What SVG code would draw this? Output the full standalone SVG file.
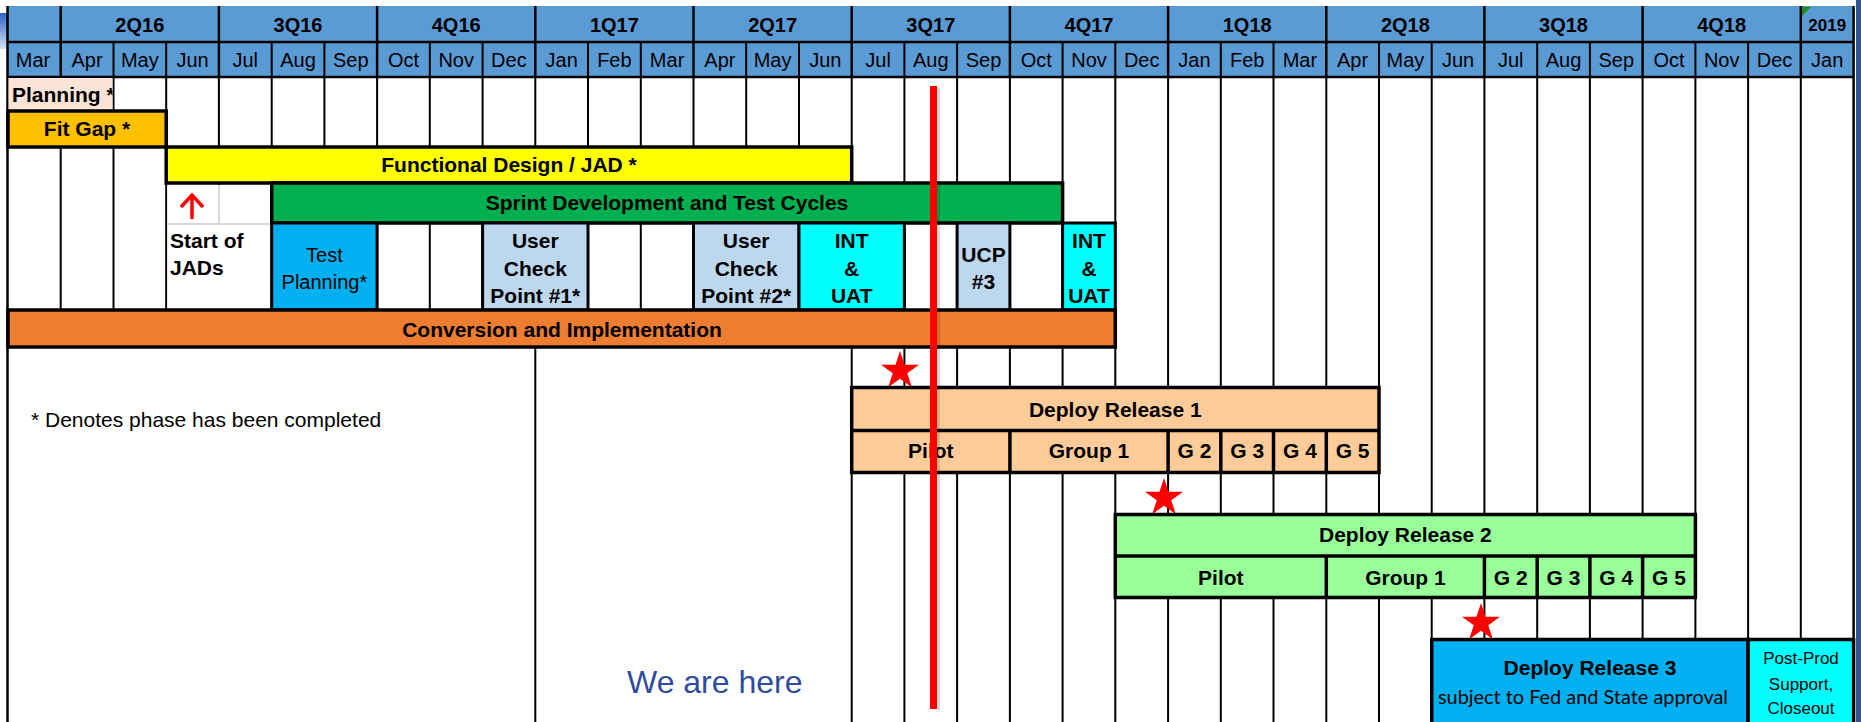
<svg xmlns="http://www.w3.org/2000/svg" width="1861" height="722" viewBox="0 0 1861 722">
<defs>
<style>
.hdr{fill:#5B9BD5}
.gl{stroke:#000;stroke-width:2;fill:none}
.hl{stroke:#000;stroke-width:2.5;fill:none}
.bar{stroke:#000;stroke-width:3.5}
.box{stroke:#000;stroke-width:3}
.q{font-family:'Liberation Sans',Arial,sans-serif;font-weight:bold;font-size:20px;text-anchor:middle;fill:#000}
.m{font-family:'Liberation Sans',Arial,sans-serif;font-size:20px;text-anchor:middle;fill:#000}
.b{font-family:'Liberation Sans',Arial,sans-serif;font-weight:bold;font-size:21px;text-anchor:middle;fill:#000}
.r{font-family:'Liberation Sans',Arial,sans-serif;font-size:20px;text-anchor:middle;fill:#000}
.star{fill:#FF0000}
</style>
<path id="star" d="M0,-20 L4.49,-6.18 L19.02,-6.18 L7.27,2.36 L11.76,16.18 L0,7.64 L-11.76,16.18 L-7.27,2.36 L-19.02,-6.18 L-4.49,-6.18Z"/>
<clipPath id="planClip"><rect x="8" y="77" width="104.5" height="33"/></clipPath>
<linearGradient id="edgeGrad" x1="0" y1="0" x2="0" y2="1">
<stop offset="0" stop-color="#2F63C6"/>
<stop offset="1" stop-color="#D4E1F4"/>
</linearGradient>
</defs>
<rect x="0" y="0" width="1861" height="722" fill="#FFFFFF"/>
<rect x="0" y="13" width="7" height="36" fill="url(#edgeGrad)"/>
<rect x="1856" y="0" width="5" height="722" fill="#2F5496"/>

<g id="header">
<rect class="hdr" x="7" y="6" width="1847" height="71"/>
<line class="hl" x1="7" y1="42" x2="1854" y2="42"/>
<line class="hl" x1="7" y1="77" x2="1854" y2="77"/>
<g class="hl">
<line x1="60.7" y1="6" x2="60.7" y2="77"/><line x1="218.9" y1="6" x2="218.9" y2="77"/><line x1="377.1" y1="6" x2="377.1" y2="77"/><line x1="535.3" y1="6" x2="535.3" y2="77"/><line x1="693.5" y1="6" x2="693.5" y2="77"/><line x1="851.7" y1="6" x2="851.7" y2="77"/><line x1="1009.9" y1="6" x2="1009.9" y2="77"/><line x1="1168.1" y1="6" x2="1168.1" y2="77"/><line x1="1326.3" y1="6" x2="1326.3" y2="77"/><line x1="1484.4" y1="6" x2="1484.4" y2="77"/><line x1="1642.6" y1="6" x2="1642.6" y2="77"/><line x1="1800.8" y1="6" x2="1800.8" y2="77"/>
</g>
<g class="gl">
<line x1="113.5" y1="42" x2="113.5" y2="77"/><line x1="166.2" y1="42" x2="166.2" y2="77"/><line x1="271.7" y1="42" x2="271.7" y2="77"/><line x1="324.4" y1="42" x2="324.4" y2="77"/><line x1="429.8" y1="42" x2="429.8" y2="77"/><line x1="482.6" y1="42" x2="482.6" y2="77"/><line x1="588" y1="42" x2="588" y2="77"/><line x1="640.8" y1="42" x2="640.8" y2="77"/><line x1="746.2" y1="42" x2="746.2" y2="77"/><line x1="799" y1="42" x2="799" y2="77"/><line x1="904.4" y1="42" x2="904.4" y2="77"/><line x1="957.1" y1="42" x2="957.1" y2="77"/><line x1="1062.6" y1="42" x2="1062.6" y2="77"/><line x1="1115.3" y1="42" x2="1115.3" y2="77"/><line x1="1220.8" y1="42" x2="1220.8" y2="77"/><line x1="1273.5" y1="42" x2="1273.5" y2="77"/><line x1="1379" y1="42" x2="1379" y2="77"/><line x1="1431.7" y1="42" x2="1431.7" y2="77"/><line x1="1537.2" y1="42" x2="1537.2" y2="77"/><line x1="1589.9" y1="42" x2="1589.9" y2="77"/><line x1="1695.4" y1="42" x2="1695.4" y2="77"/><line x1="1748.1" y1="42" x2="1748.1" y2="77"/>
</g>
<polygon points="1802,7 1811,7 1802,16" fill="#1E8C1E"/>
<g class="q">
<text x="139.8" y="31.5">2Q16</text><text x="298" y="31.5">3Q16</text><text x="456.2" y="31.5">4Q16</text><text x="614.4" y="31.5">1Q17</text><text x="772.6" y="31.5">2Q17</text><text x="930.8" y="31.5">3Q17</text><text x="1089" y="31.5">4Q17</text><text x="1247.2" y="31.5">1Q18</text><text x="1405.4" y="31.5">2Q18</text><text x="1563.5" y="31.5">3Q18</text><text x="1721.7" y="31.5">4Q18</text><text x="1827.2" y="31" style="font-size:17px">2019</text>
</g>
<g class="m">
<text x="33" y="67">Mar</text><text x="87.1" y="67">Apr</text><text x="139.8" y="67">May</text><text x="192.6" y="67">Jun</text><text x="245.3" y="67">Jul</text><text x="298" y="67">Aug</text><text x="350.8" y="67">Sep</text><text x="403.5" y="67">Oct</text><text x="456.2" y="67">Nov</text><text x="508.9" y="67">Dec</text><text x="561.7" y="67">Jan</text><text x="614.4" y="67">Feb</text><text x="667.1" y="67">Mar</text><text x="719.9" y="67">Apr</text><text x="772.6" y="67">May</text><text x="825.3" y="67">Jun</text><text x="878.1" y="67">Jul</text><text x="930.8" y="67">Aug</text><text x="983.5" y="67">Sep</text><text x="1036.2" y="67">Oct</text><text x="1089" y="67">Nov</text><text x="1141.7" y="67">Dec</text><text x="1194.4" y="67">Jan</text><text x="1247.2" y="67">Feb</text><text x="1299.9" y="67">Mar</text><text x="1352.6" y="67">Apr</text><text x="1405.4" y="67">May</text><text x="1458.1" y="67">Jun</text><text x="1510.8" y="67">Jul</text><text x="1563.5" y="67">Aug</text><text x="1616.3" y="67">Sep</text><text x="1669" y="67">Oct</text><text x="1721.7" y="67">Nov</text><text x="1774.5" y="67">Dec</text><text x="1827.2" y="67">Jan</text>
</g>
</g>

<g id="grid">
<line class="hl" x1="7.5" y1="6" x2="7.5" y2="722"/>
<line class="hl" x1="1853.6" y1="6" x2="1853.6" y2="722"/>
<g class="gl">
<line x1="60.7" y1="77" x2="60.7" y2="347"/><line x1="113.5" y1="77" x2="113.5" y2="347"/><line x1="166.2" y1="77" x2="166.2" y2="347"/><line x1="218.9" y1="77" x2="218.9" y2="347"/><line x1="271.7" y1="77" x2="271.7" y2="347"/><line x1="324.4" y1="77" x2="324.4" y2="347"/><line x1="377.1" y1="77" x2="377.1" y2="347"/><line x1="429.8" y1="77" x2="429.8" y2="347"/><line x1="482.6" y1="77" x2="482.6" y2="347"/><line x1="535.3" y1="77" x2="535.3" y2="722"/><line x1="588" y1="77" x2="588" y2="347"/><line x1="640.8" y1="77" x2="640.8" y2="347"/><line x1="693.5" y1="77" x2="693.5" y2="347"/><line x1="746.2" y1="77" x2="746.2" y2="347"/><line x1="799" y1="77" x2="799" y2="347"/>
<line x1="851.7" y1="77" x2="851.7" y2="722"/><line x1="904.4" y1="77" x2="904.4" y2="722"/><line x1="957.1" y1="77" x2="957.1" y2="722"/><line x1="1009.9" y1="77" x2="1009.9" y2="722"/><line x1="1062.6" y1="77" x2="1062.6" y2="722"/><line x1="1115.3" y1="77" x2="1115.3" y2="722"/><line x1="1168.1" y1="77" x2="1168.1" y2="722"/><line x1="1220.8" y1="77" x2="1220.8" y2="722"/><line x1="1273.5" y1="77" x2="1273.5" y2="722"/><line x1="1326.3" y1="77" x2="1326.3" y2="722"/><line x1="1379" y1="77" x2="1379" y2="722"/><line x1="1431.7" y1="77" x2="1431.7" y2="722"/><line x1="1484.4" y1="77" x2="1484.4" y2="722"/><line x1="1537.2" y1="77" x2="1537.2" y2="722"/><line x1="1589.9" y1="77" x2="1589.9" y2="722"/><line x1="1642.6" y1="77" x2="1642.6" y2="722"/><line x1="1695.4" y1="77" x2="1695.4" y2="722"/><line x1="1748.1" y1="77" x2="1748.1" y2="722"/><line x1="1800.8" y1="77" x2="1800.8" y2="722"/>
</g>
</g>

<g id="milestones" class="star">
<use href="#star" x="900" y="371"/>
<use href="#star" x="1164" y="498"/>
<use href="#star" x="1481" y="623"/>
</g>

<g id="planning">
<rect x="8.5" y="78" width="104" height="32" fill="#FCE4D6"/>
<text x="12" y="102" clip-path="url(#planClip)" style="font-family:'Liberation Sans',Arial,sans-serif;font-weight:bold;font-size:21px">Planning *</text>
</g>
<g id="fit-gap">
<rect class="bar" x="8" y="111" width="158.2" height="36" fill="#FFC000"/>
<text class="b" x="87" y="136">Fit Gap *</text>
</g>
<g id="functional-design">
<rect class="bar" x="166.2" y="147" width="685.5" height="36" fill="#FFFF00"/>
<text class="b" x="509" y="172">Functional Design / JAD *</text>
</g>
<g id="sprint">
<rect class="bar" x="271.7" y="183" width="790.9" height="40" fill="#00B050"/>
<text class="b" x="667" y="210">Sprint Development and Test Cycles</text>
</g>
<g id="start-of-jads">
<rect x="167.5" y="185" width="102.5" height="124" fill="#FFFFFF"/>
<line x1="219" y1="185" x2="219" y2="224" stroke="#D9D9D9" stroke-width="2"/>
<line x1="167.5" y1="224" x2="270" y2="224" stroke="#D9D9D9" stroke-width="2"/>
<text x="170" y="248" style="font-family:'Liberation Sans',Arial,sans-serif;font-weight:bold;font-size:21px">Start of</text>
<text x="170" y="275" style="font-family:'Liberation Sans',Arial,sans-serif;font-weight:bold;font-size:21px">JADs</text>
</g>
<g id="test-planning">
<rect class="box" x="271.7" y="223" width="105.4" height="87" fill="#00B0F0"/>
<text class="r" x="324.4" y="261.5">Test</text>
<text class="r" x="324.4" y="288.5">Planning*</text>
</g>
<g id="ucp1">
<rect class="box" x="482.6" y="223" width="105.4" height="87" fill="#BDD7EE"/>
<text class="b" x="535.3" y="248">User</text>
<text class="b" x="535.3" y="275.5">Check</text>
<text class="b" x="535.3" y="303">Point #1*</text>
</g>
<g id="ucp2">
<rect class="box" x="693.5" y="223" width="105.5" height="87" fill="#BDD7EE"/>
<text class="b" x="746.2" y="248">User</text>
<text class="b" x="746.2" y="275.5">Check</text>
<text class="b" x="746.2" y="303">Point #2*</text>
</g>
<g id="int-uat-1">
<rect class="box" x="799" y="223" width="105.4" height="87" fill="#00FFFF"/>
<text class="b" x="851.7" y="248">INT</text>
<text class="b" x="851.7" y="275.5">&amp;</text>
<text class="b" x="851.7" y="303">UAT</text>
</g>
<g id="ucp3">
<rect class="box" x="957.1" y="223" width="52.8" height="87" fill="#BDD7EE"/>
<text class="b" x="983.5" y="261.5">UCP</text>
<text class="b" x="983.5" y="289">#3</text>
</g>
<g id="int-uat-2">
<rect class="box" x="1062.6" y="223" width="52.7" height="87" fill="#00FFFF"/>
<text class="b" x="1089" y="248">INT</text>
<text class="b" x="1089" y="275.5">&amp;</text>
<text class="b" x="1089" y="303">UAT</text>
</g>
<g id="conversion">
<rect class="bar" x="8" y="310" width="1107.3" height="37" fill="#ED7D31"/>
<text class="b" x="562" y="336.5">Conversion and Implementation</text>
</g>

<g id="deploy-release-1">
<rect class="bar" x="851.7" y="387.5" width="527.3" height="85" fill="#FFCC99"/>
<g class="bar"><line x1="851.7" y1="430.5" x2="1379" y2="430.5"/><line x1="1009.9" y1="430.5" x2="1009.9" y2="472.5"/><line x1="1168.1" y1="430.5" x2="1168.1" y2="472.5"/><line x1="1220.8" y1="430.5" x2="1220.8" y2="472.5"/><line x1="1273.5" y1="430.5" x2="1273.5" y2="472.5"/><line x1="1326.3" y1="430.5" x2="1326.3" y2="472.5"/></g>
<text class="b" x="1115.3" y="417">Deploy Release 1</text>
<text class="b" x="930.8" y="458">Pilot</text>
<text class="b" x="1089" y="458">Group 1</text>
<text class="b" x="1194.4" y="458">G 2</text>
<text class="b" x="1247.2" y="458">G 3</text>
<text class="b" x="1299.9" y="458">G 4</text>
<text class="b" x="1352.6" y="458">G 5</text>
</g>
<g id="deploy-release-2">
<rect class="bar" x="1115.3" y="514.5" width="580.1" height="83" fill="#99FF99"/>
<g class="bar"><line x1="1115.3" y1="556" x2="1695.4" y2="556"/><line x1="1326.3" y1="556" x2="1326.3" y2="597.5"/><line x1="1484.4" y1="556" x2="1484.4" y2="597.5"/><line x1="1537.2" y1="556" x2="1537.2" y2="597.5"/><line x1="1589.9" y1="556" x2="1589.9" y2="597.5"/><line x1="1642.6" y1="556" x2="1642.6" y2="597.5"/></g>
<text class="b" x="1405.4" y="542">Deploy Release 2</text>
<text class="b" x="1220.8" y="584.5">Pilot</text>
<text class="b" x="1405.4" y="584.5">Group 1</text>
<text class="b" x="1510.8" y="584.5">G 2</text>
<text class="b" x="1563.5" y="584.5">G 3</text>
<text class="b" x="1616.3" y="584.5">G 4</text>
<text class="b" x="1669" y="584.5">G 5</text>
</g>
<g id="deploy-release-3">
<rect class="bar" x="1431.7" y="639.5" width="316.4" height="90" fill="#00B0F0"/>
<text class="b" x="1590" y="675">Deploy Release 3</text>
<text x="1583" y="704" text-anchor="middle" textLength="290" lengthAdjust="spacingAndGlyphs" style="font-family:Lato,'Open Sans',sans-serif;font-size:20px;fill:#000">subject to Fed and State approval</text>
</g>
<g id="post-prod">
<rect class="bar" x="1748.1" y="639.5" width="105.5" height="90" fill="#00FFFF"/>
<text class="r" x="1801" y="664" style="font-size:17px">Post-Prod</text>
<text class="r" x="1801" y="690" style="font-size:17px">Support,</text>
<text class="r" x="1801" y="714" style="font-size:17px">Closeout</text>
</g>

<g id="legend">
<text x="31" y="427" style="font-family:'Liberation Sans',Arial,sans-serif;font-size:21px;fill:#000">* Denotes phase has been completed</text>
</g>
<g id="we-are-here">
<text x="627" y="693" style="font-family:'Liberation Sans',Arial,sans-serif;font-size:32px;fill:#2E4D9D">We are here</text>
</g>

<g id="connectors">
<path d="M192,219 V196 M181,207 L192,195 L203,207" fill="none" stroke="#FF0000" stroke-width="3.5"/>
<rect x="937" y="88" width="3" height="622" fill="#000" opacity="0.15"/>
<rect x="930" y="86" width="7" height="623" fill="#FF0000"/>
</g>
</svg>
